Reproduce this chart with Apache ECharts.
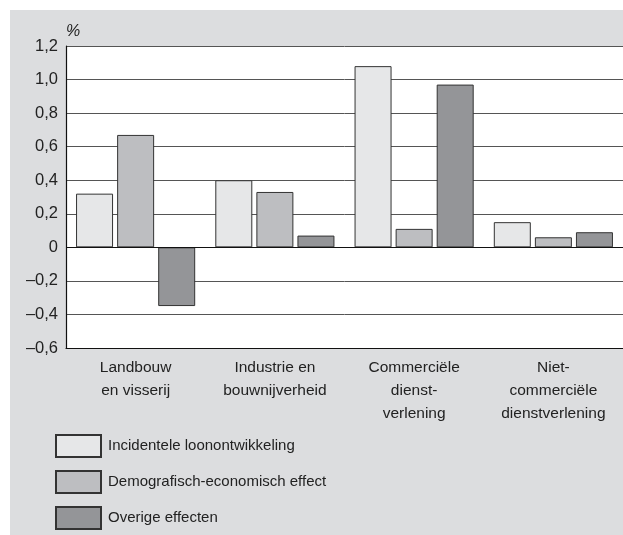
<!DOCTYPE html>
<html>
<head>
<meta charset="utf-8">
<script src="https://cdn.jsdelivr.net/npm/echarts@6/dist/echarts.min.js"></script>
<style>
  html, body { margin: 0; padding: 0; background: #ffffff; }
  #chart { width: 623px; height: 535px; }
</style>
</head>
<body>
<div id="chart"></div>
<script>
// categorieën (x-as)
const categories = [
  "Landbouw\nen visserij",
  "Industrie en\nbouwnijverheid",
  "Commerciële\ndienst-\nverlening",
  "Niet-\ncommerciële\ndienstverlening",
];
const seriesNames = [
  "Incidentele loonontwikkeling",
  "Demografisch-economisch effect",
  "Overige effecten",
];
// waarden in %
const incidenteel = [0.32, 0.4, 1.08, 0.15];
const demografisch = [0.67, 0.33, 0.11, 0.06];
const overige = [-0.35, 0.07, 0.97, 0.09];
const yTicks = [-0.6, -0.4, -0.2, 0, 0.2, 0.4, 0.6, 0.8, 1.0, 1.2];

const FONT = "'Liberation Sans', Arial, sans-serif";
const barColors = ["#e6e7e8", "#bdbec1", "#949598"];

function fmtTick(v) {
  const r = Math.round(v * 10) / 10;
  if (r === 0) return "0";
  const s = Math.abs(r).toFixed(1).replace(".", ",");
  return r < 0 ? "\u2013" + s : s;
}

const chart = echarts.init(document.getElementById("chart"));

const dataSets = [incidenteel, demografisch, overige];
const series = dataSets.map((d, i) => ({
  name: seriesNames[i],
  type: "bar",
  barWidth: 37,
  barGap: "11%",
  data: d,
  itemStyle: { color: barColors[i], borderColor: "#333333", borderWidth: 1 },
  markLine:
    i === 0
      ? {
          silent: true,
          symbol: "none",
          label: { show: false },
          lineStyle: { color: "#111111", type: "solid", width: 1.2 },
          data: [{ yAxis: 0 }],
        }
      : undefined,
  z: 3,
}));

chart.setOption({
  animation: false,
  backgroundColor: "#ffffff",
  textStyle: { fontFamily: FONT },
  graphic: [
    {
      type: "rect",
      z: -10,
      silent: true,
      shape: { x: 10, y: 10, width: 613, height: 525 },
      style: { fill: "#dcdddf" },
    },
  ],
  grid: {
    left: 66,
    top: 46,
    right: 0,
    bottom: 187,
    show: true,
    backgroundColor: "#ffffff",
    borderWidth: 0,
  },
  legend: {
    orient: "vertical",
    left: 55,
    top: 434,
    height: 100,
    padding: 0,
    icon: "rect",
    itemWidth: 45,
    itemHeight: 22,
    itemGap: 12,
    data: seriesNames,
    textStyle: { fontFamily: FONT, fontSize: 15, color: "#222222", padding: [0, 0, 0, 2] },
  },
  xAxis: {
    type: "category",
    data: categories,
    axisLine: { onZero: false, lineStyle: { color: "#111111", width: 1.2 } },
    axisTick: { show: false },
    axisLabel: {
      fontFamily: FONT,
      fontSize: 15.5,
      color: "#222222",
      lineHeight: 23,
      margin: 8,
      interval: 0,
    },
  },
  yAxis: {
    type: "value",
    min: -0.6,
    max: 1.2,
    interval: 0.2,
    name: "%",
    nameGap: 6,
    nameTextStyle: {
      fontFamily: FONT,
      fontSize: 16,
      fontStyle: "italic",
      color: "#222222",
      align: "left",
      verticalAlign: "bottom",
    },
    axisLine: { show: true, lineStyle: { color: "#111111", width: 1.2 } },
    axisTick: { show: false },
    axisLabel: {
      fontFamily: FONT,
      fontSize: 16.5,
      color: "#222222",
      margin: 8,
      formatter: fmtTick,
      customValues: yTicks,
    },
    splitLine: { show: true, lineStyle: { color: "#555555", width: 1 } },
  },
  series: series,
});
</script>
</body>
</html>
